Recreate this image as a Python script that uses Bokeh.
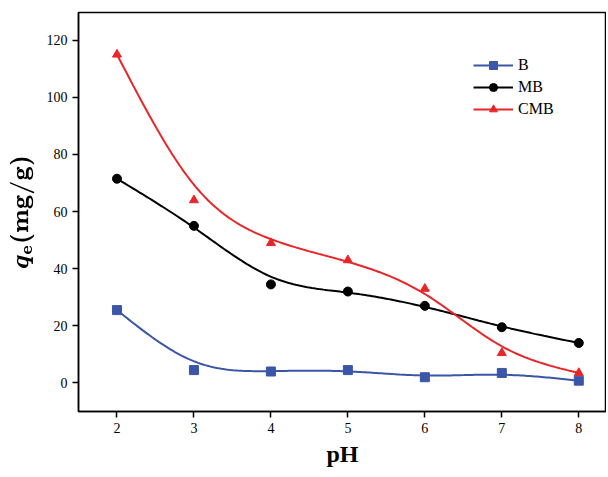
import numpy as np
from bokeh.embed import file_html
from bokeh.models import Legend, LegendItem
from bokeh.plotting import figure
from bokeh.resources import INLINE

ph = [2, 3, 4, 5, 6, 7, 8]
b = [25.5, 4.5, 4.0, 4.5, 2.0, 3.5, 0.8]
mb = [71.5, 55.0, 34.5, 32.0, 27.0, 19.5, 14.0]
cmb = [115.0, 64.0, 49.0, 43.0, 33.0, 10.5, 3.5]

SERIF = "Liberation Serif"


def smooth(x, y, lam=0.6, n=200):
    # smoothing: blend data with neighbours, then natural cubic spline
    x = np.asarray(x, float)
    y = np.asarray(y, float)
    ys = y.copy()
    ys[1:-1] = (1 - lam) * y[1:-1] + lam * 0.5 * (y[:-2] + y[2:]) * 0.5 + lam * 0.5 * y[1:-1]
    m = len(x)
    h = np.diff(x)
    A = np.zeros((m, m))
    r = np.zeros(m)
    A[0, 0] = A[-1, -1] = 1
    for i in range(1, m - 1):
        A[i, i - 1] = h[i - 1]
        A[i, i] = 2 * (h[i - 1] + h[i])
        A[i, i + 1] = h[i]
        r[i] = 6 * ((ys[i + 1] - ys[i]) / h[i] - (ys[i] - ys[i - 1]) / h[i - 1])
    M = np.linalg.solve(A, r)
    xx = np.linspace(x[0], x[-1], n)
    yy = np.empty(n)
    for k, t in enumerate(xx):
        i = min(np.searchsorted(x, t, side="right") - 1, m - 2)
        a, c = x[i + 1] - t, t - x[i]
        yy[k] = (M[i] * a**3 + M[i + 1] * c**3) / (6 * h[i]) \
            + (ys[i] / h[i] - M[i] * h[i] / 6) * a + (ys[i + 1] / h[i] - M[i + 1] * h[i] / 6) * c
    return xx, yy


p = figure(width=606, height=469, x_range=(1.5, 8.36), y_range=(-10, 129.7),
           output_backend="svg", toolbar_location=None,
           min_border_left=78, min_border_top=12, min_border_right=0, min_border_bottom=50)
p.grid.visible = False
p.outline_line_color = "black"
p.outline_line_width = 1.5
for ax in (p.xaxis, p.yaxis):
    ax.axis_line_width = 1.5
    ax.major_tick_line_width = 1.5
    ax.minor_tick_line_color = None
    ax.major_tick_out = 6
    ax.major_tick_in = 0
    ax.major_label_text_font = SERIF
    ax.major_label_text_font_size = "14px"
    ax.major_label_text_color = "black"
p.xaxis.ticker = ph
p.yaxis.ticker = [0, 20, 40, 60, 80, 100, 120]
p.xaxis.axis_label = "pH"
p.yaxis.axis_label = r"$$\boldsymbol{q}_\mathbf{e}\mathbf{(mg/g)}$$"
for ax in (p.xaxis, p.yaxis):
    ax.axis_label_text_font = SERIF
    ax.axis_label_text_font_style = "bold"
    ax.axis_label_text_font_size = "24px"
    ax.axis_label_text_color = "black"
p.yaxis.axis_label_standoff = 8

styles = [("B", b, "#3b55a8", "square"), ("MB", mb, "black", "circle"),
          ("CMB", cmb, "#e8262a", "triangle")]
items = []
for name, ys, col, mk in styles:
    xx, yy = smooth(ph, ys)
    ln = p.line(xx, yy, line_color=col, line_width=2)
    sc = p.scatter(ph, ys, marker=mk, size=9, color=col)
    items.append(LegendItem(label=name, renderers=[ln, sc]))

leg = Legend(items=items, location=(395, 292), border_line_color=None,
             background_fill_alpha=0, label_text_font=SERIF, label_text_font_size="16px",
             label_text_color="black", spacing=2, glyph_width=40)
p.add_layout(leg)

open("out.html", "w").write(file_html(p, INLINE))
